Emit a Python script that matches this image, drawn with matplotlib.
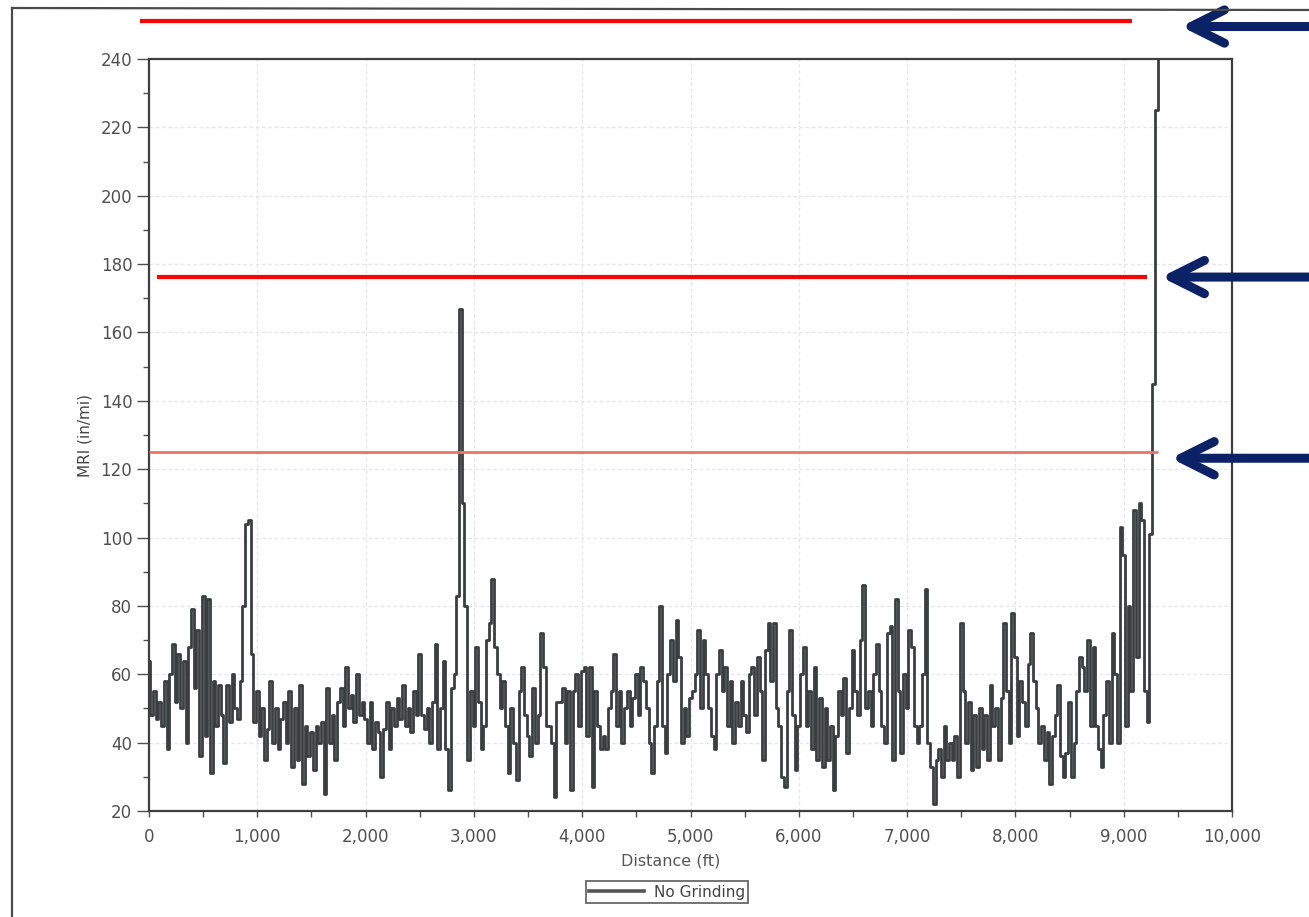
import numpy as np
import matplotlib.pyplot as plt
from matplotlib.lines import Line2D
from matplotlib.ticker import MultipleLocator, FuncFormatter

plt.rcParams['font.family'] = ['DejaVu Sans']

# ---------------- data (one value every 25 ft) ----------------
step_ft = 25
mri_0k = [64, 48, 55, 47, 52, 45, 58, 38, 60, 69, 52, 66, 50, 64, 40, 68, 79, 56, 73, 36,
          83, 42, 82, 31, 58, 45, 57, 48, 34, 57, 46, 60, 50, 47, 58, 80, 104, 105, 66, 46]
mri_1k = [55, 42, 50, 35, 44, 58, 40, 50, 38, 47, 52, 40, 55, 33, 50, 35, 57, 28, 45, 36,
          43, 32, 45, 40, 46, 25, 56, 40, 48, 35, 52, 56, 45, 62, 50, 54, 46, 60, 48, 52]
mri_2k = [47, 40, 52, 38, 46, 43, 30, 44, 52, 38, 50, 45, 53, 47, 57, 45, 50, 43, 55, 48,
          66, 48, 44, 50, 40, 52, 69, 38, 50, 64, 38, 26, 56, 60, 83, 167, 110, 80, 35, 55]
mri_3k = [45, 68, 52, 38, 45, 70, 75, 88, 68, 60, 50, 58, 45, 31, 50, 40, 29, 55, 62, 48,
          42, 36, 56, 40, 48, 72, 62, 45, 45, 40, 24, 52, 52, 56, 40, 55, 26, 55, 60, 45]
mri_4k = [61, 62, 42, 62, 27, 55, 45, 38, 42, 38, 50, 55, 66, 45, 55, 40, 50, 55, 45, 53,
          60, 48, 62, 58, 50, 40, 31, 45, 58, 80, 45, 37, 60, 70, 58, 76, 65, 40, 50, 42]
mri_5k = [53, 55, 60, 73, 50, 70, 60, 50, 42, 38, 60, 67, 55, 62, 45, 58, 40, 52, 45, 58,
          48, 43, 60, 62, 48, 65, 55, 35, 67, 75, 58, 75, 50, 45, 30, 27, 55, 73, 48, 32]
mri_6k = [45, 60, 68, 45, 55, 38, 62, 35, 53, 33, 50, 35, 45, 26, 42, 55, 48, 59, 37, 50,
          67, 55, 48, 70, 86, 50, 55, 45, 60, 69, 55, 45, 40, 72, 74, 35, 82, 55, 37, 60]
mri_7k = [50, 73, 68, 45, 40, 45, 60, 85, 40, 33, 22, 35, 38, 30, 45, 35, 40, 35, 42, 30,
          75, 55, 40, 52, 32, 48, 33, 50, 38, 48, 35, 57, 45, 50, 35, 53, 75, 55, 40, 78]
mri_8k = [65, 42, 58, 52, 45, 63, 72, 58, 50, 40, 45, 35, 43, 28, 42, 48, 57, 36, 30, 37,
          52, 30, 40, 55, 65, 62, 55, 70, 45, 68, 45, 38, 33, 48, 58, 40, 72, 60, 40, 103]
mri_9k = [95, 45, 80, 55, 108, 65, 110, 105, 55, 46, 101, 145, 225, 300]

mri_values = mri_0k + mri_1k + mri_2k + mri_3k + mri_4k + mri_5k + mri_6k + mri_7k + mri_8k + mri_9k
distance_ft = np.arange(len(mri_values)) * step_ft
series_name = "No Grinding"

# red threshold lines drawn over the chart
limit_values = [251, 176.2, 125]
limit_start_ft = [-85, 75, 0]
limit_end_ft = [9075, 9215, 9315]
limit_colors = ["#ff0000", "#ff0000", "#f07262"]
limit_widths = [3.0, 3.0, 2.0]

# blue arrows pointing at the lines
arrow_values = [249.5, 176.2, 123.2]
arrow_tip_ft = [9530, 9345, 9435]
arrow_tail_ft = 10800

x_ticks = list(range(0, 10001, 1000))
y_ticks = list(range(20, 241, 20))

# ---------------- figure ----------------
W, H = 1309, 917
fig = plt.figure(figsize=(W / 100, H / 100), dpi=100)
ax = fig.add_axes([149 / W, 1 - 811 / H, (1232 - 149) / W, (811 - 59) / H])

ax.plot(distance_ft, mri_values, color="#3b3e3e", lw=2.0, drawstyle="steps-mid",
        label=series_name, zorder=3)

for v, x0, x1, c, w in zip(limit_values, limit_start_ft, limit_end_ft, limit_colors, limit_widths):
    ax.plot([x0, x1], [v, v], color=c, lw=w, clip_on=False, zorder=4, solid_capstyle="butt")

for v, tip in zip(arrow_values, arrow_tip_ft):
    ax.annotate("", xy=(tip, v), xytext=(arrow_tail_ft, v), xycoords="data",
                annotation_clip=False,
                arrowprops=dict(arrowstyle="->,head_length=1.2,head_width=0.6",
                                color="#0c2266", lw=6.5, mutation_scale=20,
                                shrinkA=0, shrinkB=0, capstyle="round", joinstyle="round"))

ax.set_xlim(0, 10000)
ax.set_ylim(20, 240)
ax.set_xticks(x_ticks)
ax.set_yticks(y_ticks)
ax.xaxis.set_minor_locator(MultipleLocator(500))
ax.yaxis.set_minor_locator(MultipleLocator(10))
ax.xaxis.set_major_formatter(FuncFormatter(lambda v, p: f"{int(v):,}"))

ax.grid(True, which="major", color="#e6e6e6", linestyle=(0, (3, 2)), linewidth=0.9, zorder=0)
ax.tick_params(axis="y", which="major", direction="out", length=9, width=1.0, colors="#505050",
               labelsize=12, pad=3)
ax.tick_params(axis="y", which="minor", direction="out", length=4, width=1.0, color="#505050")
ax.tick_params(axis="x", which="both", direction="out", length=4, width=1.0, colors="#505050",
               labelsize=12, pad=8)
for side in ["left", "right", "top", "bottom"]:
    ax.spines[side].set_color("#3e3e3e")
    ax.spines[side].set_linewidth(1.6)

ax.set_xlabel("Distance (ft)", fontsize=11.5, color="#555555")
ax.xaxis.set_label_coords(0.482, -0.056)
ax.set_ylabel("MRI (in/mi)", fontsize=11, color="#444444")
ax.yaxis.set_label_coords(-0.052, 0.5)

leg = fig.legend(handles=[Line2D([0], [0], color="#555555", lw=2.6)], labels=[series_name],
                 loc="center", bbox_to_anchor=(667 / W, 1 - 892 / H), fontsize=11,
                 frameon=True, fancybox=False, handlelength=3.6, borderpad=0.25,
                 handletextpad=0.6)
leg.get_frame().set_edgecolor("#333333")
leg.get_frame().set_linewidth(1.2)
for t in leg.get_texts():
    t.set_color("#444444")

# edge of the scanned page
fig.add_artist(Line2D([12 / W, 12 / W], [1 - 8 / H, 0], color="#4a4a4a", lw=1.6))
fig.add_artist(Line2D([12 / W, 1], [1 - 8 / H, 1 - 10 / H], color="#4a4a4a", lw=1.6))

fig.savefig("out.png", dpi=100)
